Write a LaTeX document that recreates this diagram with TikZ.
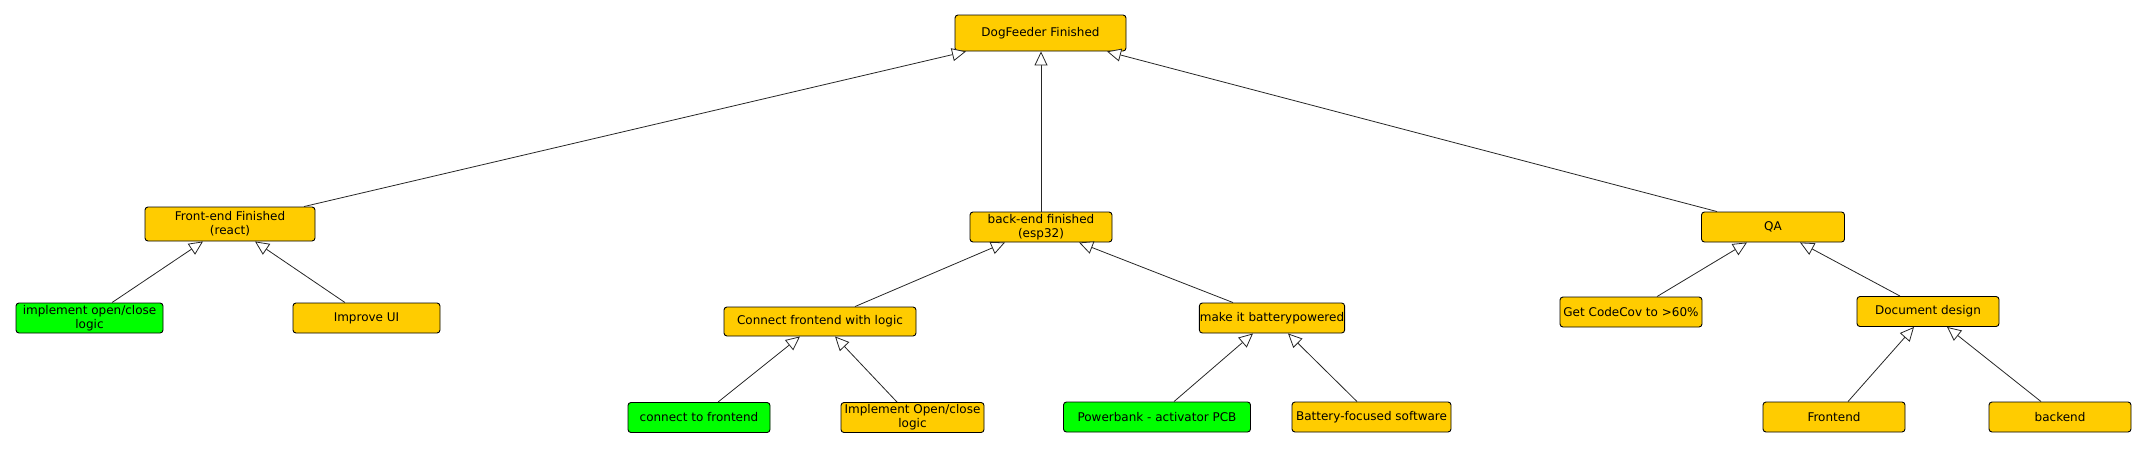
\documentclass[tikz,border=0pt]{standalone}
\usepackage{fontspec}
\setmainfont{DejaVu Sans}
\usetikzlibrary{arrows.meta}

\definecolor{todo}{RGB}{255,204,0}
\definecolor{done}{RGB}{0,255,0}

\tikzset{
    goal/.style={draw=black, fill=todo, rounded corners=3pt, line width=0.9pt,
        inner sep=0.5pt, minimum height=30pt, align=center,
        font=\fontsize{12}{14}\selectfont},
    goaldone/.style={goal, fill=done},
    isa/.style={-{Triangle[open, fill=white, length=14pt, width=13pt]},
        line width=0.8pt, draw=black!85}
}

\begin{document}
\begin{tikzpicture}[x=1pt, y=-1pt]

    \useasboundingbox (0,0) rectangle (2147,448);

    % root
    \node[goal, minimum width=171pt, minimum height=36pt] (dog) at (1040.5,33) {DogFeeder Finished};

    % second level
    \node[goal, minimum width=170pt, minimum height=34pt] (front) at (230,224) {Front-end Finished\\(react)};
    \node[goal, minimum width=142pt] (back) at (1041,227) {back-end finished\\(esp32)};
    \node[goal, minimum width=143pt] (qa) at (1773,227) {QA};

    % third level
    \node[goaldone, minimum width=147pt] (implement) at (89.5,318) {implement open/close\\logic};
    \node[goal, minimum width=147pt] (improveui) at (366.5,318) {Improve UI};
    \node[goal, minimum width=192pt, minimum height=29pt] (connect) at (820,321.5) {Connect frontend with logic};
    \node[goal, minimum width=143pt] (battery) at (1272,318) {make it batterypowered};
    \node[goal, minimum width=142pt] (codecov) at (1631,312) {Get CodeCov to >60\%};
    \node[goal, minimum width=142pt] (docs) at (1928,311.5) {Document design};

    % leaves
    \node[goaldone, minimum width=142pt] (tofront) at (699,417.5) {connect to frontend};
    \node[goal, minimum width=143pt] (openclose) at (912.5,417.5) {Implement Open/close\\logic};
    \node[goaldone, minimum width=187pt] (powerbank) at (1157,417) {Powerbank - activator PCB};
    \node[goal, minimum width=159pt] (battsoft) at (1371.5,417) {Battery-focused software};
    \node[goal, minimum width=142pt] (docfront) at (1834,417) {Frontend};
    \node[goal, minimum width=142pt] (docback) at (2060,417) {backend};

    \draw[isa] ([xshift=74pt]front.north) -- ([xshift=-74.5pt]dog.south);
    \draw[isa] (back.north) -- (back.north |- dog.south);
    \draw[isa] ([xshift=-56pt]qa.north) -- ([xshift=66.5pt]dog.south);

    \draw[isa] ([xshift=22.5pt]implement.north) -- ([xshift=-27pt]front.south);
    \draw[isa] ([xshift=-21.5pt]improveui.north) -- ([xshift=25pt]front.south);

    \draw[isa] ([xshift=35pt]connect.north) -- ([xshift=-36pt]back.south);
    \draw[isa] ([xshift=-39pt]battery.north) -- ([xshift=38pt]back.south);

    \draw[isa] ([xshift=19pt]tofront.north) -- ([xshift=-20pt]connect.south);
    \draw[isa] ([xshift=-15.5pt]openclose.north) -- ([xshift=15pt]connect.south);

    \draw[isa] ([xshift=17pt]powerbank.north) -- ([xshift=-19pt]battery.south);
    \draw[isa] ([xshift=-14.5pt]battsoft.north) -- ([xshift=16pt]battery.south);

    \draw[isa] ([xshift=26pt]codecov.north) -- ([xshift=-26pt]qa.south);
    \draw[isa] ([xshift=-28pt]docs.north) -- ([xshift=27pt]qa.south);

    \draw[isa] ([xshift=14pt]docfront.north) -- ([xshift=-14pt]docs.south);
    \draw[isa] ([xshift=-19pt]docback.north) -- ([xshift=19pt]docs.south);
\end{tikzpicture}
\end{document}
